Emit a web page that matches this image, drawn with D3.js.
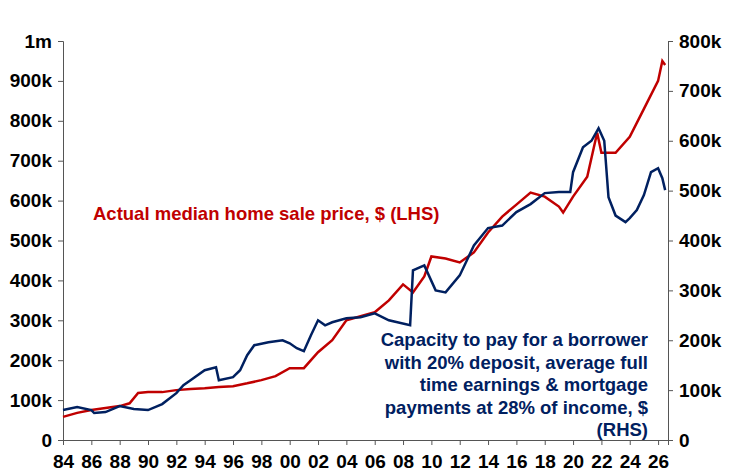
<!DOCTYPE html>
<html><head><meta charset="utf-8">
<script src="https://cdn.jsdelivr.net/npm/d3@7"></script>
<style>body{margin:0;background:#fff}text{font-family:"Liberation Sans",Arial,sans-serif;font-weight:bold}</style>
</head><body><div id="chart"></div>
<script>
// Actual median home sale price, $k (LHS)
const priceYears = [1984,1985,1986,1987,1988,1988.7,1989.3,1990,1991,1992,1993,1994,1995,1996,1997,1998,1999,2000,2001,2002,2003,2004,2005,2006,2007,2008,2008.7,2009.5,2010,2011,2012,2013,2014,2015,2016,2017,2018,2019,2019.3,2020,2021,2021.7,2022,2023,2024,2025,2026,2026.3,2026.5];
const priceValues = [58,68,75,80,85,92,118,120,120,125,128,130,133,135,142,150,160,180,180,220,250,300,310,320,350,390,370,410,460,455,445,470,520,560,590,620,610,585,570,610,660,770,720,720,760,830,900,950,940];
// Capacity to pay, $k (RHS)
const capYears = [1984,1985,1986,1986.2,1987,1988,1989,1990,1991,1992,1992.5,1993,1994,1994.8,1995,1996,1996.5,1997,1997.5,1998.5,1999.5,2000,2000.5,2001,2001.5,2002,2002.5,2003,2004,2005,2006,2007,2008.5,2008.7,2009.5,2010.3,2011,2012,2012.5,2013,2014,2015,2016,2017,2018,2019,2019.8,2020,2020.7,2021.3,2021.8,2022.2,2022.5,2023,2023.7,2024,2024.5,2025,2025.5,2026,2026.3,2026.5];
const capValues = [60,66,60,54,56,68,62,60,72,94,110,120,140,146,120,126,140,170,190,196,200,194,184,178,210,240,230,236,244,246,254,240,230,340,350,300,296,330,360,390,425,430,457,473,495,497,497,537,587,600,625,600,487,450,437,445,461,491,537,545,525,501];
const leftTicks = [0,100,200,300,400,500,600,700,800,900,1000];
const rightTicks = [0,100,200,300,400,500,600,700,800];
const yearTicks = d3.range(1984, 2027, 2);

const W = 732, H = 476;
const svg = d3.select("#chart").append("svg").attr("width", W).attr("height", H);
const x = d3.scaleLinear().domain([1984, 2026.7]).range([63, 668]);
const yL = d3.scaleLinear().domain([0, 1000]).range([440, 41]);
const yR = d3.scaleLinear().domain([0, 800]).range([440, 41]);

const fmtL = d => d === 0 ? "0" : d === 1000 ? "1m" : d + "k";
const fmtR = d => d === 0 ? "0" : d + "k";

svg.append("g").attr("transform", "translate(63,0)")
  .call(d3.axisLeft(yL).tickValues(leftTicks).tickFormat(fmtL).tickSize(5).tickPadding(6))
  .call(g => g.selectAll("text").style("font-size", "19px"));
svg.append("g").attr("transform", "translate(668,0)")
  .call(d3.axisRight(yR).tickValues(rightTicks).tickFormat(fmtR).tickSize(5).tickPadding(6))
  .call(g => g.selectAll("text").style("font-size", "19px"));
svg.append("g").attr("transform", "translate(0,440)")
  .call(d3.axisBottom(x).tickValues(yearTicks).tickFormat(d => String(d).slice(2)).tickSize(5).tickPadding(10))
  .call(g => g.selectAll("text").style("font-size", "19px"));
svg.selectAll(".domain, .tick line").attr("stroke", "#555");

const lineL = d3.line().x(d => x(d[0])).y(d => yL(d[1]));
const lineR = d3.line().x(d => x(d[0])).y(d => yR(d[1]));
svg.append("path").datum(priceYears.map((y, i) => [y, priceValues[i]]))
  .attr("d", lineL).attr("fill", "none").attr("stroke", "#c00000").attr("stroke-width", 2.5);
svg.append("path").datum(capYears.map((y, i) => [y, capValues[i]]))
  .attr("d", lineR).attr("fill", "none").attr("stroke", "#002060").attr("stroke-width", 2.5);

svg.append("text").attr("x", 93).attr("y", 220).attr("fill", "#c00000").style("font-size", "18.5px")
  .text("Actual median home sale price, $ (LHS)");
const capLines = ["Capacity to pay for a borrower", "with 20% deposit, average full", "time earnings & mortgage", "payments at 28% of income, $", "(RHS)"];
svg.append("g").selectAll("text").data(capLines).join("text")
  .attr("x", 648).attr("y", (d, i) => 346 + i * 22.5).attr("text-anchor", "end")
  .attr("fill", "#002060").style("font-size", "18.5px").text(d => d);
</script></body></html>
